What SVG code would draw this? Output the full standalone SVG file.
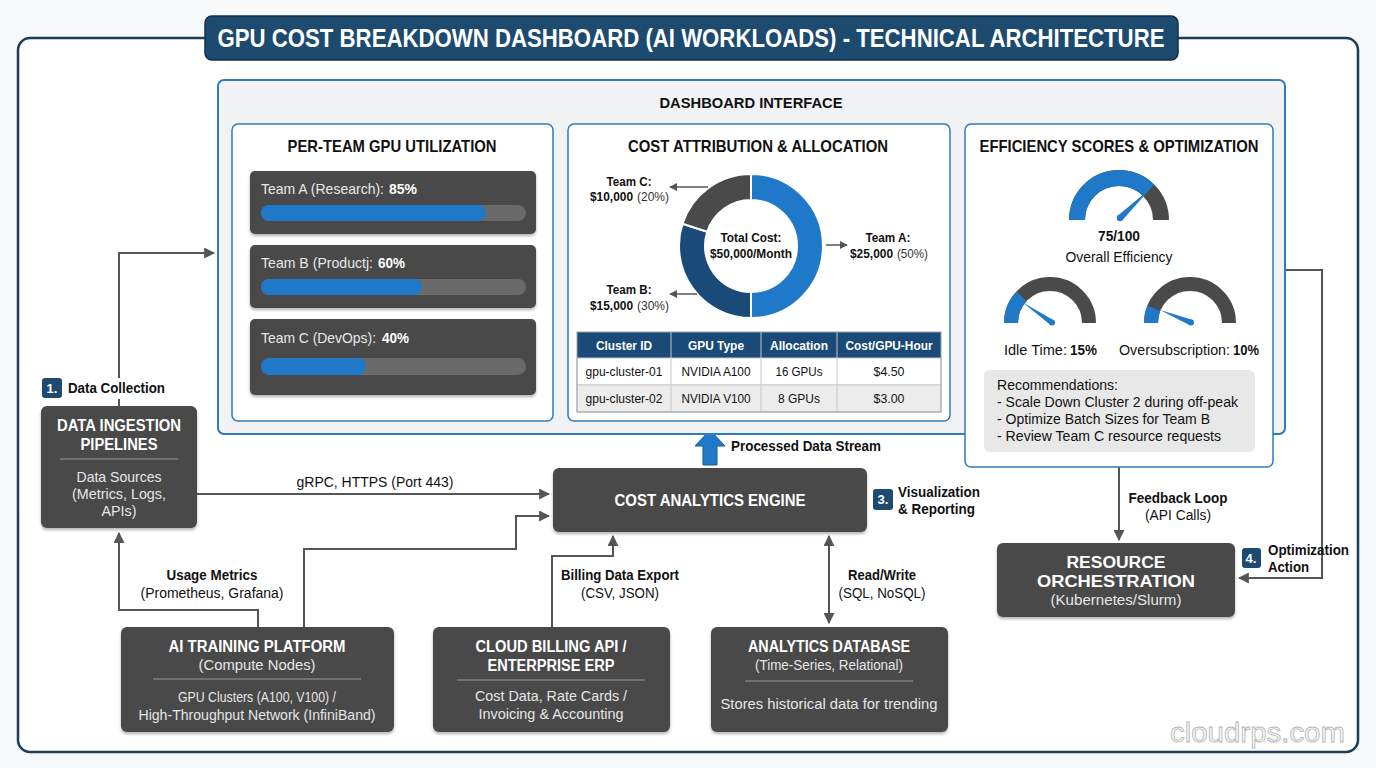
<svg xmlns="http://www.w3.org/2000/svg" width="1376" height="768" viewBox="0 0 1376 768">
<defs>
<style>
text{font-family:"Liberation Sans",Arial,sans-serif;}
.dark{fill:#4a4a4a;filter:url(#sh);}
.wt{fill:#ffffff;font-weight:bold;font-size:16px;text-anchor:middle;}
.wl{fill:#e6e6e6;font-size:15px;text-anchor:middle;}
.bk{fill:#111;font-weight:bold;font-size:14px;}
.rg{fill:#111;font-size:14px;}
.ph{fill:#111;font-weight:bold;font-size:17px;text-anchor:middle;}
.panel{fill:#ffffff;stroke:#2f7bbf;stroke-width:1.5;}
.conn{fill:none;stroke:#555555;stroke-width:2;}
.badge{fill:#1e4a70;}
.bt{fill:#fff;font-weight:bold;font-size:13px;text-anchor:middle;}
.sep{stroke:#9a9a9a;stroke-width:1.2;}
.track{fill:#6a6a6a;}
.bar{fill:#1f78c8;}
.bl{fill:#e8e8e8;font-size:14.5px;}
.bv{fill:#ffffff;font-size:14.5px;font-weight:bold;}
.th{fill:#fff;font-weight:bold;font-size:13.5px;text-anchor:middle;}
.td{fill:#111;font-size:13.5px;text-anchor:middle;}
.dl{fill:#111;font-weight:bold;font-size:13px;}
.dp{fill:#333;font-size:13px;}
</style>
<filter id="sh" x="-5%" y="-5%" width="110%" height="120%">
<feDropShadow dx="0" dy="2" stdDeviation="1.5" flood-color="#000" flood-opacity="0.3"/>
</filter>
<marker id="ah" viewBox="0 0 10 10" refX="9" refY="5" markerWidth="5.5" markerHeight="5.5" orient="auto-start-reverse" markerUnits="strokeWidth">
<path d="M0,0 L10,5 L0,10 Z" fill="#555555"/>
</marker>
<marker id="ahs" viewBox="0 0 10 10" refX="9" refY="5" markerWidth="8" markerHeight="8" orient="auto-start-reverse" markerUnits="userSpaceOnUse">
<path d="M0,0 L10,5 L0,10 Z" fill="#555555"/>
</marker>
</defs>

<rect width="1376" height="768" fill="#f7f8f9"/>
<rect x="18" y="38" width="1340" height="714" rx="12" fill="#ffffff" stroke="#1a3d5c" stroke-width="2.5"/>

<g id="title">
<rect x="205" y="16" width="973" height="44" rx="7" fill="#1d4a6f" stroke="#10304a" stroke-width="1.5"/>
<text x="691" y="47" fill="#ffffff" font-weight="bold" font-size="25" text-anchor="middle" textLength="947" lengthAdjust="spacingAndGlyphs">GPU COST BREAKDOWN DASHBOARD (AI WORKLOADS) - TECHNICAL ARCHITECTURE</text>
</g>

<g id="connectors">
<polyline class="conn" points="119,378 119,253 214,253" marker-end="url(#ah)"/>
<line class="conn" x1="119" y1="399" x2="119" y2="406"/>
<line class="conn" x1="197" y1="494" x2="549" y2="494" marker-end="url(#ah)"/>
<polyline class="conn" points="258,627 258,610 119,610 119,533" marker-end="url(#ah)"/>
<polyline class="conn" points="304,627 304,549 516,549 516,516 549,516" marker-end="url(#ah)"/>
<polyline class="conn" points="552,627 552,556 613,556 613,536" marker-end="url(#ah)"/>
<line class="conn" x1="829" y1="536" x2="829" y2="623" marker-start="url(#ah)" marker-end="url(#ah)"/>
<line class="conn" x1="1119" y1="467" x2="1119" y2="540" marker-end="url(#ah)"/>
<polyline class="conn" points="1285,270 1322,270 1322,578 1239,578" marker-end="url(#ah)"/>
<path d="M710,430 L725,446 L717,446 L717,465 L703,465 L703,446 L695,446 Z" fill="#1f78c8" stroke="#155a99" stroke-width="1"/>
<text class="bk" x="731" y="451" textLength="150" lengthAdjust="spacingAndGlyphs">Processed Data Stream</text>
<text class="rg" x="375" y="487" text-anchor="middle" textLength="157" lengthAdjust="spacingAndGlyphs">gRPC, HTTPS (Port 443)</text>
<text class="bk" x="212" y="580" text-anchor="middle" textLength="91" lengthAdjust="spacingAndGlyphs">Usage Metrics</text>
<text class="rg" x="212" y="598" text-anchor="middle" textLength="143" lengthAdjust="spacingAndGlyphs">(Prometheus, Grafana)</text>
<text class="bk" x="620" y="580" text-anchor="middle" textLength="118" lengthAdjust="spacingAndGlyphs">Billing Data Export</text>
<text class="rg" x="620" y="598" text-anchor="middle" textLength="78" lengthAdjust="spacingAndGlyphs">(CSV, JSON)</text>
<text class="bk" x="882" y="580" text-anchor="middle" textLength="68" lengthAdjust="spacingAndGlyphs">Read/Write</text>
<text class="rg" x="882" y="598" text-anchor="middle" textLength="87" lengthAdjust="spacingAndGlyphs">(SQL, NoSQL)</text>
<text class="bk" x="1178" y="503" text-anchor="middle" textLength="99" lengthAdjust="spacingAndGlyphs">Feedback Loop</text>
<text class="rg" x="1178" y="520" text-anchor="middle" textLength="66" lengthAdjust="spacingAndGlyphs">(API Calls)</text>
<rect class="badge" x="42" y="378" width="20" height="20" rx="3"/>
<text class="bt" x="52" y="393">1.</text>
<text class="bk" x="68" y="393" textLength="97" lengthAdjust="spacingAndGlyphs">Data Collection</text>
<rect class="badge" x="873" y="489" width="20" height="21" rx="3"/>
<text class="bt" x="883" y="504">3.</text>
<text class="bk" x="898" y="497" textLength="82" lengthAdjust="spacingAndGlyphs">Visualization</text>
<text class="bk" x="898" y="514" textLength="77" lengthAdjust="spacingAndGlyphs">&amp; Reporting</text>
<rect class="badge" x="1242" y="548" width="19" height="20" rx="3"/>
<text class="bt" x="1251" y="563">4.</text>
<text class="bk" x="1268" y="555" textLength="81" lengthAdjust="spacingAndGlyphs">Optimization</text>
<text class="bk" x="1268" y="572" textLength="41" lengthAdjust="spacingAndGlyphs">Action</text>
</g>

<g id="dashboard">
<rect x="218" y="80" width="1067" height="354" rx="6" fill="#f0f2f4" stroke="#2f7bbf" stroke-width="2"/>
<text x="751" y="108" fill="#111" font-weight="bold" font-size="15" text-anchor="middle" textLength="183" lengthAdjust="spacingAndGlyphs">DASHBOARD INTERFACE</text>
</g>

<g id="utilization">
<rect class="panel" x="232" y="124" width="321" height="297" rx="6"/>
<text class="ph" x="392" y="152" textLength="209" lengthAdjust="spacingAndGlyphs">PER-TEAM GPU UTILIZATION</text>
<rect class="dark" x="250" y="171" width="286" height="63" rx="5"/>
<text class="bl" x="261" y="194" textLength="123" lengthAdjust="spacingAndGlyphs">Team A (Research):</text>
<text class="bv" x="389" y="194" textLength="28" lengthAdjust="spacingAndGlyphs">85%</text>
<rect class="track" x="261" y="205" width="265" height="16" rx="8"/>
<rect class="bar" x="261" y="205" width="225" height="16" rx="8"/>
<rect class="dark" x="250" y="245" width="286" height="63" rx="5"/>
<text class="bl" x="261" y="268" textLength="112" lengthAdjust="spacingAndGlyphs">Team B (Productj:</text>
<text class="bv" x="378" y="268" textLength="27" lengthAdjust="spacingAndGlyphs">60%</text>
<rect class="track" x="261" y="279" width="265" height="16" rx="8"/>
<rect class="bar" x="261" y="279" width="161" height="16" rx="8"/>
<rect class="dark" x="250" y="319" width="286" height="76" rx="5"/>
<text class="bl" x="261" y="343" textLength="115" lengthAdjust="spacingAndGlyphs">Team C (DevOps):</text>
<text class="bv" x="382" y="343" textLength="27" lengthAdjust="spacingAndGlyphs">40%</text>
<rect class="track" x="261" y="358" width="265" height="17" rx="8.5"/>
<rect class="bar" x="261" y="358" width="105" height="17" rx="8.5"/>
</g>

<g id="cost-attribution">
<rect class="panel" x="568" y="124" width="382" height="297" rx="6"/>
<text class="ph" x="758" y="152" textLength="260" lengthAdjust="spacingAndGlyphs">COST ATTRIBUTION &amp; ALLOCATION</text>
<path d="M751,174 A72,72 0 0 1 751,318 L751,292 A46,46 0 0 0 751,200 Z" fill="#1f78c8" stroke="#fff" stroke-width="2"/>
<path d="M751,318 A72,72 0 0 1 682.52,223.75 L707.25,231.79 A46,46 0 0 0 751,292 Z" fill="#1a4a78" stroke="#fff" stroke-width="2"/>
<path d="M682.52,223.75 A72,72 0 0 1 751,174 L751,200 A46,46 0 0 0 707.25,231.79 Z" fill="#4a4a4a" stroke="#fff" stroke-width="2"/>
<text x="751" y="242" fill="#111" font-weight="bold" font-size="13" text-anchor="middle" textLength="61" lengthAdjust="spacingAndGlyphs">Total Cost:</text>
<text x="751" y="258" fill="#111" font-weight="bold" font-size="13" text-anchor="middle" textLength="82" lengthAdjust="spacingAndGlyphs">$50,000/Month</text>
<line x1="708" y1="187" x2="670" y2="187" stroke="#555" stroke-width="1.5" marker-end="url(#ahs)"/>
<line x1="826" y1="245" x2="847" y2="245" stroke="#555" stroke-width="1.5" marker-end="url(#ahs)"/>
<line x1="697" y1="294" x2="670" y2="294" stroke="#555" stroke-width="1.5" marker-end="url(#ahs)"/>
<text class="dl" x="629" y="186" text-anchor="middle" textLength="45" lengthAdjust="spacingAndGlyphs">Team C:</text>
<text class="dl" x="590" y="201" textLength="43" lengthAdjust="spacingAndGlyphs">$10,000</text>
<text class="dp" x="637" y="201" textLength="32" lengthAdjust="spacingAndGlyphs">(20%)</text>
<text class="dl" x="888" y="242" text-anchor="middle" textLength="45" lengthAdjust="spacingAndGlyphs">Team A:</text>
<text class="dl" x="850" y="258" textLength="43" lengthAdjust="spacingAndGlyphs">$25,000</text>
<text class="dp" x="897" y="258" textLength="31" lengthAdjust="spacingAndGlyphs">(50%)</text>
<text class="dl" x="629" y="294" text-anchor="middle" textLength="45" lengthAdjust="spacingAndGlyphs">Team B:</text>
<text class="dl" x="590" y="310" textLength="43" lengthAdjust="spacingAndGlyphs">$15,000</text>
<text class="dp" x="637" y="310" textLength="32" lengthAdjust="spacingAndGlyphs">(30%)</text>
<rect x="577" y="332" width="364" height="26" fill="#1a4a78"/>
<rect x="577" y="358" width="364" height="27" fill="#ffffff" stroke="#c8c8c8" stroke-width="1"/>
<rect x="577" y="385" width="364" height="27" fill="#ececec" stroke="#c8c8c8" stroke-width="1"/>
<g stroke="#c8c8c8" stroke-width="1">
<line x1="671" y1="332" x2="671" y2="412"/>
<line x1="761" y1="332" x2="761" y2="412"/>
<line x1="837" y1="332" x2="837" y2="412"/>
</g>
<rect x="577" y="332" width="364" height="80" fill="none" stroke="#9aa4ae" stroke-width="1"/>
<text class="th" x="624" y="350" textLength="56" lengthAdjust="spacingAndGlyphs">Cluster ID</text>
<text class="th" x="716" y="350" textLength="56" lengthAdjust="spacingAndGlyphs">GPU Type</text>
<text class="th" x="799" y="350" textLength="58" lengthAdjust="spacingAndGlyphs">Allocation</text>
<text class="th" x="889" y="350" textLength="87" lengthAdjust="spacingAndGlyphs">Cost/GPU-Hour</text>
<text class="td" x="624" y="376" textLength="77" lengthAdjust="spacingAndGlyphs">gpu-cluster-01</text>
<text class="td" x="716" y="376" textLength="69" lengthAdjust="spacingAndGlyphs">NVIDIA A100</text>
<text class="td" x="799" y="376" textLength="47" lengthAdjust="spacingAndGlyphs">16 GPUs</text>
<text class="td" x="889" y="376" textLength="31" lengthAdjust="spacingAndGlyphs">$4.50</text>
<text class="td" x="624" y="403" textLength="77" lengthAdjust="spacingAndGlyphs">gpu-cluster-02</text>
<text class="td" x="716" y="403" textLength="69" lengthAdjust="spacingAndGlyphs">NVIDIA V100</text>
<text class="td" x="799" y="403" textLength="42" lengthAdjust="spacingAndGlyphs">8 GPUs</text>
<text class="td" x="889" y="403" textLength="31" lengthAdjust="spacingAndGlyphs">$3.00</text>
</g>

<g id="efficiency">
<rect class="panel" x="965" y="124" width="308" height="343" rx="6"/>
<text class="ph" x="1119" y="152" textLength="279" lengthAdjust="spacingAndGlyphs">EFFICIENCY SCORES &amp; OPTIMIZATION</text>
<path d="M1077,220 A42,42 0 0 1 1161,220" fill="none" stroke="#4a4a4a" stroke-width="16"/>
<path d="M1077,220 A42,42 0 0 1 1148.7,190.3" fill="none" stroke="#1f78c8" stroke-width="16"/>
<polygon points="1122.3,220.3 1117.7,215.7 1151,188" fill="#1f78c8"/>
<circle cx="1120" cy="218" r="3.2" fill="#1f78c8"/>
<text x="1119" y="241" fill="#111" font-weight="bold" font-size="15" text-anchor="middle" textLength="42" lengthAdjust="spacingAndGlyphs">75/100</text>
<text x="1119" y="262" fill="#111" font-size="15" text-anchor="middle" textLength="107" lengthAdjust="spacingAndGlyphs">Overall Efficiency</text>
<path d="M1011,323 A39,39 0 0 1 1089,323" fill="none" stroke="#4a4a4a" stroke-width="14"/>
<path d="M1011,323 A39,39 0 0 1 1021.5,296.4" fill="none" stroke="#1f78c8" stroke-width="14"/>
<polygon points="1053.6,320.2 1050.4,324.8 1022,302" fill="#1f78c8"/>
<circle cx="1052" cy="322.5" r="3" fill="#1f78c8"/>
<path d="M1151,323 A39,39 0 0 1 1229,323" fill="none" stroke="#4a4a4a" stroke-width="14"/>
<path d="M1151,323 A39,39 0 0 1 1153.8,308.4" fill="none" stroke="#1f78c8" stroke-width="14"/>
<polygon points="1192.2,319.8 1189.8,325.2 1160,310" fill="#1f78c8"/>
<circle cx="1191" cy="322.5" r="3" fill="#1f78c8"/>
<text x="1004" y="355" fill="#111" font-size="15" textLength="63" lengthAdjust="spacingAndGlyphs">Idle Time:</text>
<text x="1070" y="355" fill="#111" font-size="15" font-weight="bold" textLength="27" lengthAdjust="spacingAndGlyphs">15%</text>
<text x="1119" y="355" fill="#111" font-size="15" textLength="111" lengthAdjust="spacingAndGlyphs">Oversubscription:</text>
<text x="1233" y="355" fill="#111" font-size="15" font-weight="bold" textLength="26" lengthAdjust="spacingAndGlyphs">10%</text>
<rect x="984" y="370" width="271" height="82" rx="6" fill="#e8e8e8"/>
<text class="rg" x="997" y="390" font-size="14.5" textLength="121" lengthAdjust="spacingAndGlyphs">Recommendations:</text>
<text class="rg" x="997" y="407" font-size="14.5" textLength="241" lengthAdjust="spacingAndGlyphs">- Scale Down Cluster 2 during off-peak</text>
<text class="rg" x="997" y="424" font-size="14.5" textLength="213" lengthAdjust="spacingAndGlyphs">- Optimize Batch Sizes for Team B</text>
<text class="rg" x="997" y="441" font-size="14.5" textLength="224" lengthAdjust="spacingAndGlyphs">- Review Team C resource requests</text>
</g>

<g id="data-ingestion">
<rect class="dark" x="41" y="406" width="156" height="122" rx="6"/>
<text class="wt" x="119" y="431" textLength="124" lengthAdjust="spacingAndGlyphs">DATA INGESTION</text>
<text class="wt" x="119" y="450" textLength="77" lengthAdjust="spacingAndGlyphs">PIPELINES</text>
<line class="sep" x1="60" y1="459" x2="178" y2="459"/>
<text class="wl" x="119" y="482" textLength="85" lengthAdjust="spacingAndGlyphs">Data Sources</text>
<text class="wl" x="119" y="499" textLength="94" lengthAdjust="spacingAndGlyphs">(Metrics, Logs,</text>
<text class="wl" x="119" y="516" textLength="35" lengthAdjust="spacingAndGlyphs">APIs)</text>
</g>

<g id="cost-engine">
<rect class="dark" x="553" y="468" width="314" height="64" rx="6"/>
<text class="wt" x="710" y="506" textLength="191" lengthAdjust="spacingAndGlyphs">COST ANALYTICS ENGINE</text>
</g>

<g id="ai-training">
<rect class="dark" x="121" y="627" width="273" height="105" rx="6"/>
<text class="wt" x="257" y="652" textLength="177" lengthAdjust="spacingAndGlyphs">AI TRAINING PLATFORM</text>
<text class="wl" x="257" y="670" textLength="117" lengthAdjust="spacingAndGlyphs">(Compute Nodes)</text>
<line class="sep" x1="153" y1="679" x2="361" y2="679"/>
<text class="wl" x="257" y="702" textLength="158" lengthAdjust="spacingAndGlyphs">GPU Clusters (A100, V100) /</text>
<text class="wl" x="257" y="720" textLength="237" lengthAdjust="spacingAndGlyphs">High-Throughput Network (InfiniBand)</text>
</g>

<g id="cloud-billing">
<rect class="dark" x="433" y="627" width="237" height="105" rx="6"/>
<text class="wt" x="551" y="652" textLength="151" lengthAdjust="spacingAndGlyphs">CLOUD BILLING API /</text>
<text class="wt" x="551" y="671" textLength="127" lengthAdjust="spacingAndGlyphs">ENTERPRISE ERP</text>
<line class="sep" x1="457" y1="680" x2="645" y2="680"/>
<text class="wl" x="551" y="701" textLength="152" lengthAdjust="spacingAndGlyphs">Cost Data, Rate Cards /</text>
<text class="wl" x="551" y="719" textLength="145" lengthAdjust="spacingAndGlyphs">Invoicing &amp; Accounting</text>
</g>

<g id="analytics-db">
<rect class="dark" x="711" y="627" width="237" height="105" rx="6"/>
<text class="wt" x="829" y="652" textLength="162" lengthAdjust="spacingAndGlyphs">ANALYTICS DATABASE</text>
<text class="wl" x="829" y="670" textLength="148" lengthAdjust="spacingAndGlyphs">(Time-Series, Relational)</text>
<line class="sep" x1="745" y1="681" x2="913" y2="681"/>
<text class="wl" x="829" y="709" textLength="217" lengthAdjust="spacingAndGlyphs">Stores historical data for trending</text>
</g>

<g id="resource-orchestration">
<rect class="dark" x="997" y="543" width="238" height="74" rx="6"/>
<text class="wt" x="1116" y="568" textLength="99" lengthAdjust="spacingAndGlyphs">RESOURCE</text>
<text class="wt" x="1116" y="587" textLength="158" lengthAdjust="spacingAndGlyphs">ORCHESTRATION</text>
<text class="wl" x="1116" y="605" textLength="131" lengthAdjust="spacingAndGlyphs">(Kubernetes/Slurm)</text>
</g>

<text x="1170" y="742" fill="#f8f8f8" stroke="#b5b5b5" stroke-width="0.8" font-size="28" textLength="175" lengthAdjust="spacingAndGlyphs">cloudrps.com</text>
</svg>
